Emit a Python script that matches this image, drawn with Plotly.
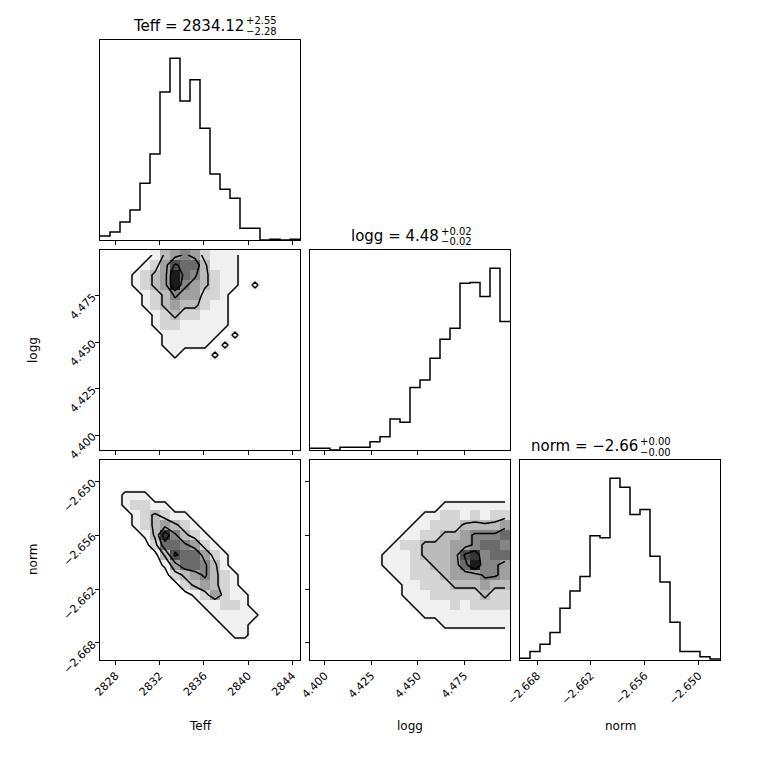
import plotly.graph_objects as go

teff_range = [2826.6, 2844.7]
logg_range = [4.392, 4.4996]
norm_range = [-2.6699, -2.6476]

teff_hist = [12,24,54,90,170,258,444,545,417,480,335,198,152,125,35,35,0,2,0,2]
logg_hist = [5,5,0,8,8,8,25,40,93,83,187,210,275,332,365,500,502,460,545,385]
norm_hist = [5,25,47,82,154,205,248,369,363,540,513,432,447,308,232,112,25,25,10,3]

teff_ticks = [2828, 2832, 2836, 2840, 2844]
teff_ticktext = ["2828", "2832", "2836", "2840", "2844"]
logg_ticks = [4.400, 4.425, 4.450, 4.475]
logg_ticktext = ["4.400", "4.425", "4.450", "4.475"]
norm_ticks = [-2.668, -2.662, -2.656, -2.650]
norm_ticktext = ["\u22122.668", "\u22122.662", "\u22122.656", "\u22122.650"]

# 2D density grids (rows from top = high y value), shade 0-9
grid_teff_logg = [
 "00000134542111000000","00001247663111000000","00012349653211000000","00012349543211010000",
 "00001235442210000000","00001234332110000000","00000123221110000000","00000122111110000000",
 "00000011111101000000","00000011111010000000","00000001000100000000","00000000000000000000",
 "00000000000000000000","00000000000000000000","00000000000000000000","00000000000000000000",
 "00000000000000000000","00000000000000000000","00000000000000000000","00000000000000000000"]
grid_teff_norm = [
 "00000000000000000000","00000000000000000000","00000000000000000000","00111000000000000000",
 "00122110000000000000","00012321100000000000","00012343210000000000","00001385321000000000",
 "00000266542100000000","00000037664210000000","00000014665310000000","00000002345321000000",
 "00000000234321000000","00000000012421100000","00000000001122100000","00000000000111110000",
 "00000000000011100000","00000000000001100000","00000000000000000000","00000000000000000000"]
grid_logg_norm = [
 "00000000000000000000","00000000000000000000","00000000000000000000","00000000000000000000",
 "00000000000001111111","00000000000112212122","00000000001122233334","00000000011223345556",
 "00000000122333445665","00000001112333478566","00000001112233469554","00000000112223444554",
 "00000000011222333433","00000000011122222322","00000000001111212222","00000000000111111111",
 "00000000000001111111","00000000000000000000","00000000000000000000","00000000000000000000"]

NB = 20
def centers(r):
    w = (r[1]-r[0])/NB
    return [r[0]+w*(i+0.5) for i in range(NB)]
def edges(r):
    w = (r[1]-r[0])/NB
    return [r[0]+w*i for i in range(NB+1)]
def zgrid(g):
    return [[int(c) for c in row] for row in reversed(g)]

fig = go.Figure()
S = 760.0
O = 8  # page body margin offset
cols = [(100,300),(310,510),(520,720)]
rows = [(40,240),(250,450),(460,660)]
def px(x): return (x-O)/S
def py(y): return 1-(y-O)/S
def dom_x(c): return [px(cols[c][0]), px(cols[c][1])]
def dom_y(r): return [py(rows[r][1]), py(rows[r][0])]

ranges = [teff_range, logg_range, norm_range]
ticks = [(teff_ticks, teff_ticktext), (logg_ticks, logg_ticktext), (norm_ticks, norm_ticktext)]
panels = [(0,0,'h',0), (1,0,'2',None), (1,1,'h',1), (2,0,'2',None), (2,1,'2',None), (2,2,'h',2)]
hists = [teff_hist, logg_hist, norm_hist]
grids = {(1,0): grid_teff_logg, (2,0): grid_teff_norm, (2,1): grid_logg_norm}

axstyle = dict(showline=True, mirror=True, linecolor='black', linewidth=1, ticks='outside',
               ticklen=4, tickcolor='black', showgrid=False, zeroline=False, automargin=False,
               tickfont=dict(family='DejaVu Sans', size=11, color='black'))
for i,(r,c,kind,hi) in enumerate(panels):
    n = i+1
    xa = 'x' if n == 1 else f'x{n}'
    ya = 'y' if n == 1 else f'y{n}'
    xr = ranges[c]
    tv, tt = ticks[c]
    xlay = dict(axstyle, domain=dom_x(c), range=xr, anchor=ya, tickvals=tv,
                ticktext=tt if r == 2 else ['']*len(tv), tickangle=-45)
    if kind == 'h':
        h = hists[hi]
        e = edges(xr)
        fig.add_trace(go.Scatter(x=e, y=h+[h[-1]], mode='lines', line=dict(color='black', width=1.5, shape='hv'),
                                 xaxis=xa, yaxis=ya, showlegend=False, hoverinfo='skip'))
        ylay = dict(axstyle, domain=dom_y(r), range=[0, 1.1*max(h)], anchor=xa, showticklabels=False, ticks='')
    else:
        yr = ranges[r]
        ytv, ytt = ticks[r]
        z = zgrid(grids[(r,c)])
        fig.add_trace(go.Heatmap(x=centers(xr), y=centers(yr), z=z, zmin=0, zmax=10,
                                 colorscale=[[0,'white'],[0.1,'#f0f0f0'],[1,'black']], showscale=False,
                                 xaxis=xa, yaxis=ya, hoverinfo='skip'))
        fig.add_trace(go.Contour(x=centers(xr), y=centers(yr), z=z,
                                 contours=dict(coloring='none', start=0.7, end=6.7, size=2),
                                 line=dict(color='black', width=1.5, smoothing=0), showscale=False,
                                 xaxis=xa, yaxis=ya, hoverinfo='skip'))
        ylay = dict(axstyle, domain=dom_y(r), range=yr, anchor=xa, tickvals=ytv,
                    ticktext=ytt if c == 0 else ['']*len(ytv), tickangle=-45)
    fig.layout[('xaxis' if n == 1 else f'xaxis{n}')] = xlay
    fig.layout[('yaxis' if n == 1 else f'yaxis{n}')] = ylay

ann = []
F = 'DejaVu Sans'
def A(text, x, y, size, xanchor='center', angle=0):
    ann.append(dict(text=text, x=px(x), y=py(y), xref='paper', yref='paper', showarrow=False,
                    xanchor=xanchor, yanchor='middle', textangle=angle,
                    font=dict(family=F, size=size, color='black')))
A('Teff', 200, 726, 12)
A('logg', 410, 726, 12)
A('norm', 620, 726, 12)
A('logg', 33, 350, 12, angle=-90)
A('norm', 33, 560, 12, angle=-90)
titles = [("Teff = 2834.12", "+2.55", "\u22122.28", 246, 26),
          ("logg = 4.48", "+0.02", "\u22120.02", 441, 236),
          ("norm = \u22122.66", "+0.00", "\u22120.00", 640, 446)]
for main, up, lo, xr_, yc in titles:
    A(main, xr_, yc, 15, xanchor='right')
    A(up, xr_-2, yc-5, 10, xanchor='left')
    A(lo, xr_-2, yc+6, 10, xanchor='left')

fig.update_layout(width=760, height=760, margin=dict(l=0, r=0, t=0, b=0),
                  paper_bgcolor='white', plot_bgcolor='white', annotations=ann, showlegend=False)
fig.write_html("out.html")
